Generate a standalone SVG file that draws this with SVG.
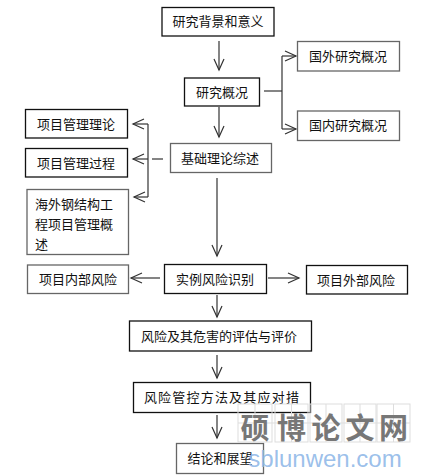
<svg xmlns="http://www.w3.org/2000/svg" width="427" height="476" viewBox="0 0 427 476">
<defs>
<style>
.b{fill:#fff;stroke:#111;stroke-width:1.3}
.g{fill:#fff;stroke:#666;stroke-width:1.3}
.t{font-family:"Noto Sans CJK SC","Noto Sans CJK JP",sans-serif;font-size:13px;fill:#111}
.c{fill:none;stroke:#333;stroke-width:1.2}
.w{fill:none;stroke:#ddd;stroke-width:1}
.wc{font-family:"Noto Sans CJK SC",sans-serif;font-size:29px;font-weight:bold;fill:#777;text-anchor:middle}
</style>
<marker id="a" markerWidth="14" markerHeight="12" refX="12" refY="6" orient="auto" markerUnits="userSpaceOnUse">
<path d="M1,1 L12,6 L1,11" fill="none" stroke="#333" stroke-width="1.2"/>
</marker>
</defs>
<g id="connectors">
<line class="c" x1="219" y1="41" x2="219" y2="70" marker-end="url(#a)"/>
<line class="c" x1="219" y1="107" x2="219" y2="137" marker-end="url(#a)"/>
<line class="c" x1="264" y1="91" x2="282" y2="91"/>
<line class="c" x1="282" y1="56" x2="282" y2="129"/>
<line class="c" x1="282" y1="56" x2="296" y2="56" marker-end="url(#a)"/>
<line class="c" x1="282" y1="129" x2="296" y2="129" marker-end="url(#a)"/>
<line class="c" x1="152" y1="159" x2="163" y2="159"/>
<line class="c" x1="148" y1="124" x2="148" y2="197"/>
<line class="c" x1="148" y1="124" x2="133" y2="124" marker-end="url(#a)"/>
<line class="c" x1="148" y1="159" x2="133" y2="159" marker-end="url(#a)"/>
<line class="c" x1="148" y1="197" x2="134" y2="197" marker-end="url(#a)"/>
<line class="c" x1="217" y1="178" x2="217" y2="256" marker-end="url(#a)"/>
<line class="c" x1="160" y1="278" x2="131" y2="278" marker-end="url(#a)"/>
<line class="c" x1="268" y1="278" x2="299" y2="278" marker-end="url(#a)"/>
<line class="c" x1="217" y1="295" x2="217" y2="317" marker-end="url(#a)"/>
<line class="c" x1="217" y1="355" x2="217" y2="378" marker-end="url(#a)"/>
<line class="c" x1="217" y1="415" x2="217" y2="438" marker-end="url(#a)"/>
</g>
<g id="n1"><rect class="b" x="162" y="7.5" width="112" height="28.5"/><text class="t" x="218" y="26" text-anchor="middle">研究背景和意义</text></g>
<g id="n2"><rect class="b" x="184.5" y="78" width="75" height="28"/><text class="t" x="222" y="96.5" text-anchor="middle">研究概况</text></g>
<g id="n3"><rect class="g" x="297.5" y="41.5" width="102" height="29.5"/><text class="t" x="348" y="60.5" text-anchor="middle">国外研究概况</text></g>
<g id="n4"><rect class="g" x="297.5" y="111" width="102" height="29.5"/><text class="t" x="348" y="130" text-anchor="middle">国内研究概况</text></g>
<g id="n5"><rect class="g" x="170.5" y="143.5" width="101" height="29"/><text class="t" x="220" y="162.5" text-anchor="middle">基础理论综述</text></g>
<g id="n6"><rect class="b" x="25.5" y="109.5" width="102" height="28.5"/><text class="t" x="76" y="128.5" text-anchor="middle">项目管理理论</text></g>
<g id="n7"><rect class="b" x="25.5" y="148.5" width="102" height="28.5"/><text class="t" x="76" y="167.5" text-anchor="middle">项目管理过程</text></g>
<g id="n8"><rect class="g" x="27" y="189.5" width="101.5" height="65"/><text class="t" x="35" y="208.5">海外钢结构工</text><text class="t" x="35" y="228.5">程项目管理概</text><text class="t" x="35" y="248.5">述</text></g>
<g id="n9"><rect class="b" x="164.5" y="264.5" width="102" height="29"/><text class="t" x="215" y="283.5" text-anchor="middle">实例风险识别</text></g>
<g id="n10"><rect class="g" x="27.5" y="265" width="101" height="28.5"/><text class="t" x="78" y="284" text-anchor="middle">项目内部风险</text></g>
<g id="n11"><rect class="b" x="306.5" y="265.5" width="101" height="28.5"/><text class="t" x="356" y="284.5" text-anchor="middle">项目外部风险</text></g>
<g id="n12"><rect class="b" x="129.5" y="321" width="182" height="30"/><text class="t" x="219" y="340.5" text-anchor="middle">风险及其危害的评估与评价</text></g>
<g id="n13"><rect class="b" x="133.5" y="382.5" width="177" height="30"/><text class="t" x="222" y="401.5" text-anchor="middle" letter-spacing="1.2">风险管控方法及其应对措</text></g>
<g id="n14"><rect class="g" x="176.5" y="443.5" width="87" height="30"/><text class="t" x="220" y="463" text-anchor="middle">结论和展望</text></g>
<g id="watermark">
<rect class="w" x="238" y="404" width="34" height="38"/><rect class="w" x="275" y="404" width="33" height="38"/><rect class="w" x="310" y="404" width="32" height="38"/><rect class="w" x="344" y="404" width="32" height="38"/><rect class="w" x="377" y="404" width="33" height="38"/>
<path class="w" d="M255,404V442M291.5,404V442M326,404V442M360,404V442M393.5,404V442M238,423H410"/>
<text class="wc" x="255" y="439">硕</text>
<text class="wc" x="291.5" y="439">博</text>
<text class="wc" x="326" y="439">论</text>
<text class="wc" x="360" y="439">文</text>
<text class="wc" x="393.5" y="439">网</text>
<text x="325" y="467" text-anchor="middle" font-family="Liberation Sans, sans-serif" font-size="24" fill="#8fb8e8" fill-opacity="0.9">sblunwen.com</text>
</g>
</svg>
